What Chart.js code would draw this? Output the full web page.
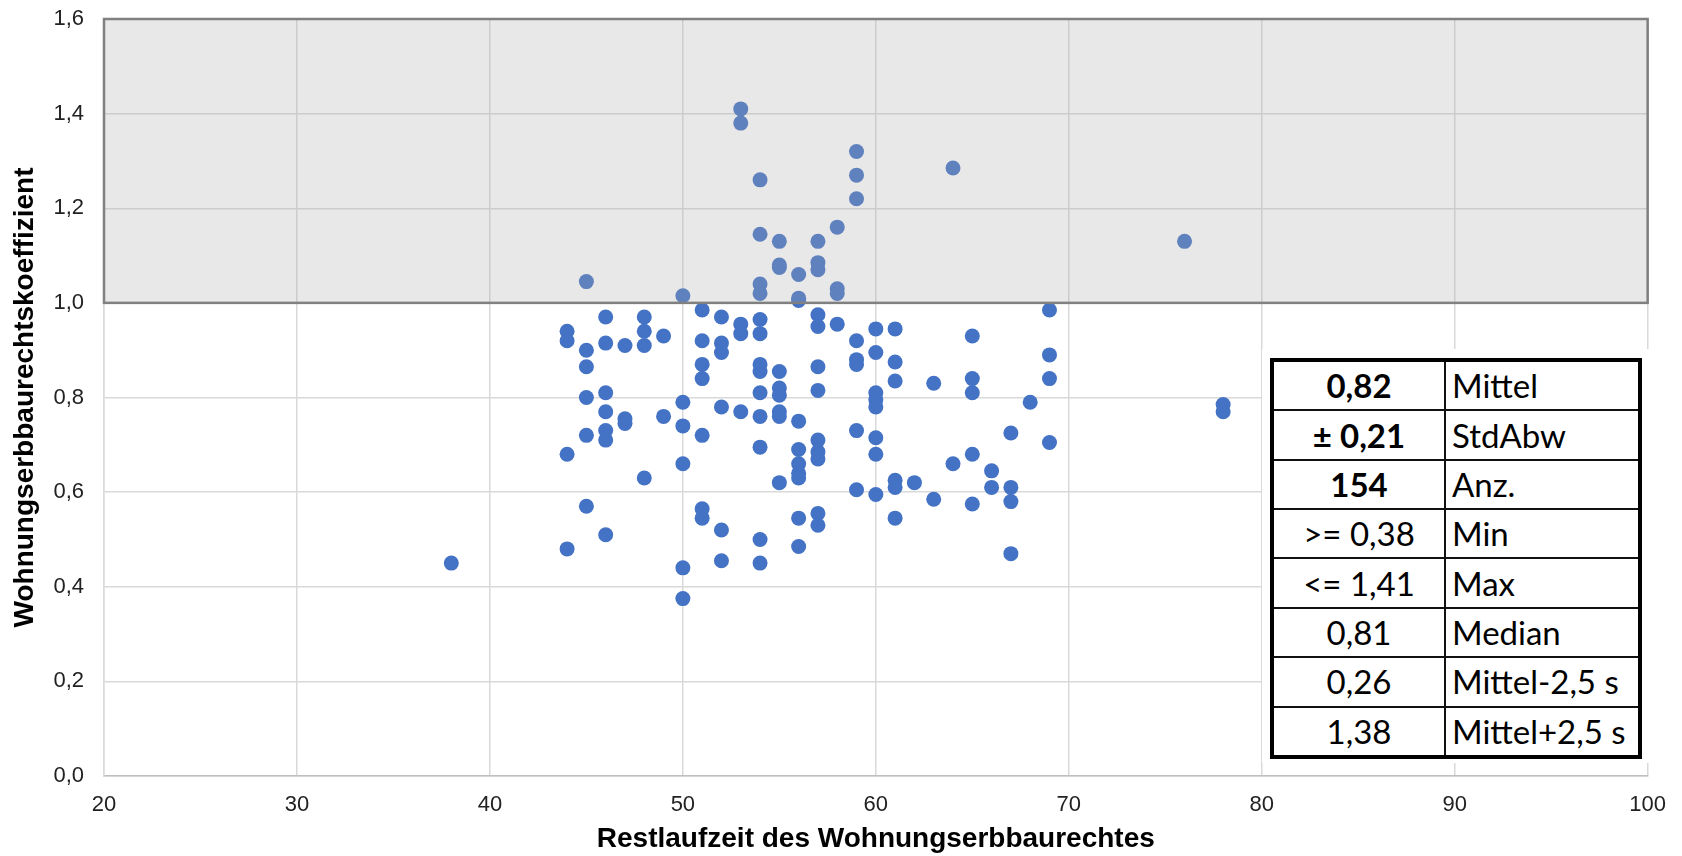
<!DOCTYPE html>
<html>
<head>
<meta charset="utf-8">
<script src="https://cdn.jsdelivr.net/npm/chart.js@4"></script>
<style>
  body { margin: 0; background: #fff; }
  #wrap { position: relative; width: 1682px; height: 856px; }
  #statBox { position: absolute; left: 1262px; top: 349px; width: 388px; height: 414px; background: #fff; }
  #statTable { position: absolute; left: 8px; top: 9px; width: 372px; height: 401px;
    border-collapse: collapse; border: 4px solid #000; font-family: Lato, "Open Sans", sans-serif; font-size: 33px; color: #000; }
  #statTable td { border: 2px solid #111; padding: 0 6px; height: 47px; line-height: 1; }
  #statTable td.val { text-align: center; width: 158px; }
  #statTable td.lab { text-align: left; }
  #statTable td.bold { font-weight: bold; }
</style>
</head>
<body>
<div id="wrap">
  <canvas id="chart" width="1682" height="856"></canvas>
  <div id="statBox"><table id="statTable"><tbody></tbody></table></div>
</div>
<script>
// Restlaufzeit (x) und Koeffizient (y)
const restlaufzeit = [
  38,
  44, 44, 44, 44,
  45, 45, 45, 45, 45, 45,
  46, 46, 46, 46, 46, 46, 46,
  47, 47, 47,
  48, 48, 48, 48,
  49, 49,
  50, 50, 50, 50, 50, 50,
  51, 51, 51, 51, 51, 51, 51,
  52, 52, 52, 52, 52, 52,
  53, 53, 53, 53, 53,
  54, 54, 54, 54, 54, 54, 54, 54, 54, 54, 54, 54, 54,
  55, 55, 55, 55, 55, 55, 55, 55, 55,
  56, 56, 56, 56, 56, 56, 56, 56, 56, 56,
  57, 57, 57, 57, 57, 57, 57, 57, 57, 57, 57, 57,
  58, 58, 58, 58,
  59, 59, 59, 59, 59, 59, 59, 59,
  60, 60, 60, 60, 60, 60, 60, 60,
  61, 61, 61, 61, 61, 61,
  62,
  63, 63,
  64, 64,
  65, 65, 65, 65, 65,
  66, 66,
  67, 67, 67, 67,
  68,
  69, 69, 69, 69,
  76,
  78, 78
];
const koeffizient = [
  0.45,
  0.94, 0.92, 0.68, 0.48,
  1.045, 0.90, 0.865, 0.80, 0.72, 0.57,
  0.97, 0.915, 0.81, 0.77, 0.73, 0.71, 0.51,
  0.91, 0.755, 0.745,
  0.97, 0.94, 0.91, 0.63,
  0.93, 0.76,
  1.015, 0.79, 0.74, 0.66, 0.44, 0.375,
  0.985, 0.92, 0.87, 0.84, 0.72, 0.565, 0.545,
  0.97, 0.915, 0.895, 0.78, 0.52, 0.455,
  1.41, 1.38, 0.955, 0.935, 0.77,
  1.26, 1.145, 1.04, 1.02, 0.965, 0.935, 0.87, 0.855, 0.81, 0.76, 0.695, 0.50, 0.45,
  1.13, 1.08, 1.075, 0.855, 0.82, 0.805, 0.77, 0.76, 0.62,
  1.06, 1.01, 1.005, 0.75, 0.69, 0.66, 0.64, 0.63, 0.545, 0.485,
  1.13, 1.085, 1.07, 0.975, 0.95, 0.865, 0.815, 0.71, 0.685, 0.67, 0.555, 0.53,
  1.16, 1.03, 1.02, 0.955,
  1.32, 1.27, 1.22, 0.92, 0.88, 0.87, 0.73, 0.605,
  0.945, 0.895, 0.81, 0.795, 0.78, 0.715, 0.68, 0.595,
  0.945, 0.875, 0.835, 0.625, 0.61, 0.545,
  0.62,
  0.83, 0.585,
  1.285, 0.66,
  0.93, 0.84, 0.81, 0.68, 0.575,
  0.645, 0.61,
  0.725, 0.61, 0.58, 0.47,
  0.79,
  0.985, 0.89, 0.84, 0.705,
  1.13,
  0.785, 0.77
];

// grauer Bereich (Koeffizient > 1)
const shadeMin = 1.0;
const shadeMax = 1.6;

// Statistik-Tabelle
const statValues = ["0,82", "± 0,21", "154", ">= 0,38", "<= 1,41", "0,81", "0,26", "1,38"];
const statLabels = ["Mittel", "StdAbw", "Anz.", "Min", "Max", "Median", "Mittel-2,5 s", "Mittel+2,5 s"];
const statBold = [true, true, true, false, false, false, false, false];

const tbody = document.querySelector("#statTable tbody");
statValues.forEach((v, i) => {
  tbody.innerHTML += `<tr><td class="val${statBold[i] ? ' bold' : ''}">${v.replace(/</g, '&lt;').replace(/>/g, '&gt;')}</td><td class="lab">${statLabels[i]}</td></tr>`;
});

const points = restlaufzeit.map((x, i) => ({ x: x, y: koeffizient[i] }));

const shadeBox = {
  id: 'shadeBox',
  afterDatasetsDraw(chart) {
    const { ctx, scales } = chart;
    const left = scales.x.getPixelForValue(scales.x.min);
    const right = scales.x.getPixelForValue(scales.x.max);
    const top = scales.y.getPixelForValue(shadeMax);
    const bottom = scales.y.getPixelForValue(shadeMin);
    ctx.save();
    ctx.fillStyle = 'rgba(170,170,170,0.27)';
    ctx.fillRect(left, top, right - left, bottom - top);
    ctx.strokeStyle = '#808080';
    ctx.lineWidth = 2.5;
    ctx.strokeRect(left, top, right - left, bottom - top);
    ctx.restore();
  }
};

new Chart(document.getElementById('chart').getContext('2d'), {
  type: 'scatter',
  data: {
    datasets: [{
      data: points,
      backgroundColor: '#4472C4',
      borderWidth: 0,
      pointRadius: 7.5,
      pointHoverRadius: 7.5
    }]
  },
  options: {
    responsive: false,
    devicePixelRatio: 1,
    animation: false,
    layout: { padding: { top: 19, right: 32, left: 0, bottom: 0 } },
    plugins: {
      legend: { display: false },
      tooltip: { enabled: false }
    },
    scales: {
      x: {
        type: 'linear',
        min: 20,
        max: 100,
        afterFit(scale) { scale.height = 80; },
        ticks: {
          stepSize: 10,
          padding: 16,
          color: '#222',
          font: { family: 'Liberation Sans, Arial, sans-serif', size: 22 }
        },
        grid: { color: '#d9d9d9', lineWidth: 1.5, drawTicks: false },
        border: { color: '#bfbfbf', width: 1.5 },
        title: {
          display: true,
          text: 'Restlaufzeit des Wohnungserbbaurechtes',
          color: '#000',
          padding: { top: 0, bottom: 0 },
          font: { family: 'Liberation Sans, Arial, sans-serif', size: 28, weight: 'bold' }
        }
      },
      y: {
        min: 0,
        max: 1.6,
        afterFit(scale) {
          scale.width = 104;
          scale.paddingTop = 0;
          scale.paddingBottom = 0;
        },
        ticks: {
          stepSize: 0.2,
          padding: 20,
          color: '#222',
          font: { family: 'Liberation Sans, Arial, sans-serif', size: 22 },
          callback: v => v.toFixed(1).replace('.', ',')
        },
        grid: { color: '#d9d9d9', lineWidth: 1.5, drawTicks: false },
        border: { color: '#d9d9d9', width: 1.5 },
        title: {
          display: true,
          text: 'Wohnungserbbaurechtskoeffizient',
          color: '#000',
          padding: { top: 8, bottom: 0 },
          font: { family: 'Liberation Sans, Arial, sans-serif', size: 28, weight: 'bold' }
        }
      }
    }
  },
  plugins: [shadeBox]
});
</script>
</body>
</html>
